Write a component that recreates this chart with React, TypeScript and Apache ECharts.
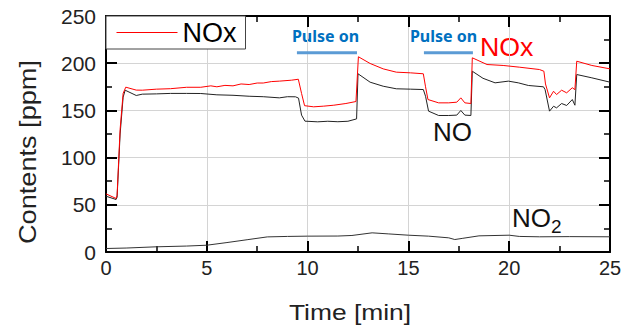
import React, { useEffect, useRef } from "react";
import * as echarts from "echarts";

// ---- data (time in min, contents in ppm) ----
const noxTime = [0, 0.5, 0.55, 0.7, 0.85, 0.98, 1.5, 1.8, 2.5, 3.2, 4.0, 4.7, 5.2, 5.5, 5.9, 6.3, 6.7, 7.1, 7.5, 7.8, 8.2, 8.6, 9.2, 9.54, 9.7, 9.85, 10.3, 10.8, 11.3, 11.9, 12.4, 12.52, 13.1, 13.75, 14.4, 15.1, 15.74, 15.85, 15.97, 16.5, 17.0, 17.4, 17.6, 17.8, 18.1, 18.17, 18.9, 19.7, 20.5, 21.5, 21.72, 21.8, 22.0, 22.2, 22.35, 22.6, 22.85, 23.13, 23.26, 23.35, 24.1, 25];
const noxPpm = [61.6, 56.7, 60, 130, 168, 174.6, 171.5, 171.4, 172.5, 173, 174.5, 174.5, 176, 175, 176.5, 176, 178, 177.4, 179, 179, 180.5, 181, 182, 183, 168, 155, 153.8, 154.5, 155.5, 157.3, 159.4, 206.8, 199.7, 194, 190.5, 189.8, 188.8, 175, 161.5, 158, 158, 158.7, 163.3, 158, 157.3, 205.7, 198.6, 197.6, 195.8, 193.3, 191.5, 178, 163.3, 170.3, 166.8, 171.4, 168.6, 174, 172, 202.1, 197.6, 194];

const noTime = [0, 0.5, 0.55, 0.7, 0.85, 0.95, 1.5, 1.8, 2.5, 3.2, 4.0, 4.7, 5.5, 6.3, 7.1, 7.8, 8.6, 9.0, 9.4, 9.55, 9.7, 9.87, 10.5, 11.0, 11.5, 12.0, 12.43, 12.5, 13.1, 13.75, 14.4, 15.1, 15.74, 15.85, 16.0, 16.5, 17.0, 17.4, 17.6, 17.8, 18.1, 18.17, 18.7, 19.3, 19.96, 20.45, 20.95, 21.7, 21.78, 22.0, 22.2, 22.35, 22.6, 22.85, 23.13, 23.26, 23.35, 24.1, 25];
const noPpm = [59.1, 55.6, 58, 125, 164, 171.4, 165.8, 167.2, 167.5, 168, 168, 167.9, 166.5, 166, 165, 164.5, 163.3, 164.5, 164.4, 163, 145, 138.6, 137.9, 138.5, 138, 138.5, 141, 188.8, 179.9, 175.6, 172.9, 172.5, 172.1, 165, 149.2, 144.6, 144.6, 145, 149.9, 145, 144.6, 191.5, 184, 179.2, 181, 179.2, 176.4, 175, 172, 149.2, 154.4, 152.7, 157.3, 155.2, 161.5, 155.5, 188, 184.5, 179.9];

const no2Time = [0, 1, 2.5, 4, 5, 6, 7, 8, 9, 10, 11.5, 12.2, 13.2, 14, 15, 16, 17, 17.3, 17.7, 18.5, 20, 20.5, 21.5, 23, 25];
const no2Ppm = [3.7, 4.2, 5.5, 6.3, 7.2, 10, 13, 16, 16.5, 16.8, 16.9, 17.5, 20.3, 19.2, 17.8, 16.8, 15, 13.2, 14.5, 17.1, 17.8, 16.5, 16.1, 16.3, 16.1];

const pulse1Time = [9.47, 12.45];
const pulse2Time = [15.77, 18.2];
const pulseLevel = 211;

const xMin = 0;
const xMax = 25;
const xStep = 5;
const yMin = 0;
const yMax = 250;
const yStep = 50;

const NOX_COLOR = "#ff0000";
const FONT = "'Liberation Sans', Arial, sans-serif";

const zip = (t: number[], v: number[]) => t.map((x, i) => [x, v[i]]);

export default function App() {
  const ref = useRef<HTMLDivElement>(null);

  useEffect(() => {
    if (!ref.current) return;
    const chart = echarts.init(ref.current, undefined, { renderer: "svg" });

    const axisLine = { show: true, onZero: false, lineStyle: { color: "#000", width: 2 } };
    const axisTick = { show: true, inside: true, length: 11, lineStyle: { color: "#000", width: 2 } };
    const minorTick = { show: true, splitNumber: 2, length: 6, lineStyle: { color: "#000", width: 1.5 } };
    const splitLine = { show: true, lineStyle: { color: "#d4d4d4", width: 1 } };

    chart.setOption({
      animation: false,
      backgroundColor: "#fff",
      grid: { left: 106, right: 17, top: 16, bottom: 77, containLabel: false },
      legend: {
        data: ["NOx"],
        left: 106,
        top: 16,
        orient: "horizontal",
        backgroundColor: "#fff",
        borderColor: "#444",
        borderWidth: 1,
        borderRadius: 0,
        padding: [3, 9, 3, 10],
        itemWidth: 61,
        itemHeight: 14,
        itemStyle: { opacity: 0 },
        lineStyle: { color: NOX_COLOR, width: 1 },
        selectedMode: false,
        textStyle: { fontSize: 27, color: "#000", fontFamily: FONT },
      },
      xAxis: [
        {
          type: "value",
          min: xMin,
          max: xMax,
          interval: xStep,
          position: "bottom",
          axisLine,
          axisTick,
          minorTick,
          splitLine,
          axisLabel: { fontSize: 20, color: "#222", margin: 6, fontFamily: FONT },
        },
        {
          type: "value",
          min: xMin,
          max: xMax,
          interval: xStep,
          position: "top",
          axisLine,
          axisTick,
          minorTick,
          splitLine: { show: false },
          axisLabel: { show: false },
        },
      ],
      yAxis: [
        {
          type: "value",
          min: yMin,
          max: yMax,
          interval: yStep,
          position: "left",
          axisLine,
          axisTick,
          minorTick,
          splitLine,
          axisLabel: { fontSize: 21, color: "#222", margin: 10, fontFamily: FONT },
        },
        {
          type: "value",
          min: yMin,
          max: yMax,
          interval: yStep,
          position: "right",
          axisLine,
          axisTick,
          minorTick,
          splitLine: { show: false },
          axisLabel: { show: false },
        },
      ],
      series: [
        {
          name: "NOx",
          type: "line",
          symbol: "none",
          data: zip(noxTime, noxPpm),
          lineStyle: { color: NOX_COLOR, width: 1 },
          itemStyle: { color: NOX_COLOR },
          z: 3,
        },
        {
          name: "NO",
          type: "line",
          symbol: "none",
          data: zip(noTime, noPpm),
          lineStyle: { color: "#222", width: 1 },
          itemStyle: { color: "#222" },
          z: 2,
        },
        {
          name: "NO2",
          type: "line",
          symbol: "none",
          data: zip(no2Time, no2Ppm),
          lineStyle: { color: "#333", width: 1 },
          itemStyle: { color: "#333" },
          z: 2,
        },
        {
          name: "Pulse 1",
          type: "line",
          symbol: "none",
          data: pulse1Time.map((t) => [t, pulseLevel]),
          lineStyle: { color: "#5B9BD5", width: 3 },
          z: 4,
        },
        {
          name: "Pulse 2",
          type: "line",
          symbol: "none",
          data: pulse2Time.map((t) => [t, pulseLevel]),
          lineStyle: { color: "#5B9BD5", width: 3 },
          z: 4,
        },
      ],
      graphic: [
        {
          type: "text",
          x: 28,
          y: 152,
          rotation: Math.PI / 2,
          scaleX: 1.18,
          style: { text: "Contents [ppm]", fontSize: 23, fontFamily: FONT, fill: "#222", align: "center", verticalAlign: "middle" },
        },
        {
          type: "text",
          x: 350,
          y: 312,
          scaleX: 1.2,
          style: { text: "Time [min]", fontSize: 22, fontFamily: FONT, fill: "#222", align: "center", verticalAlign: "middle" },
        },
        {
          type: "text",
          x: 325.5,
          y: 36,
          style: { text: "Pulse on", fontSize: 16, fontWeight: "bold", fontFamily: "'Noto Sans', sans-serif", fill: "#0070C0", align: "center", verticalAlign: "middle" },
        },
        {
          type: "text",
          x: 443.5,
          y: 36,
          style: { text: "Pulse on", fontSize: 16, fontWeight: "bold", fontFamily: "'Noto Sans', sans-serif", fill: "#0070C0", align: "center", verticalAlign: "middle" },
        },
        {
          type: "text",
          x: 480,
          y: 47,
          scaleX: 1.07,
          style: { text: "NOx", fontSize: 25, fontFamily: FONT, fill: NOX_COLOR, align: "left", verticalAlign: "middle" },
        },
        {
          type: "text",
          x: 433,
          y: 132,
          style: { text: "NO", fontSize: 26, fontFamily: FONT, fill: "#111", align: "left", verticalAlign: "middle" },
        },
        {
          type: "text",
          x: 512,
          y: 218,
          style: { text: "NO", fontSize: 26, fontFamily: FONT, fill: "#111", align: "left", verticalAlign: "middle" },
        },
        {
          type: "text",
          x: 551,
          y: 226,
          style: { text: "2", fontSize: 19, fontFamily: FONT, fill: "#111", align: "left", verticalAlign: "middle" },
        },
      ],
    });

    return () => chart.dispose();
  }, []);

  return (
    <div
      ref={ref}
      style={{ position: "fixed", left: 0, top: 0, width: 627, height: 329, background: "#fff" }}
    />
  );
}
